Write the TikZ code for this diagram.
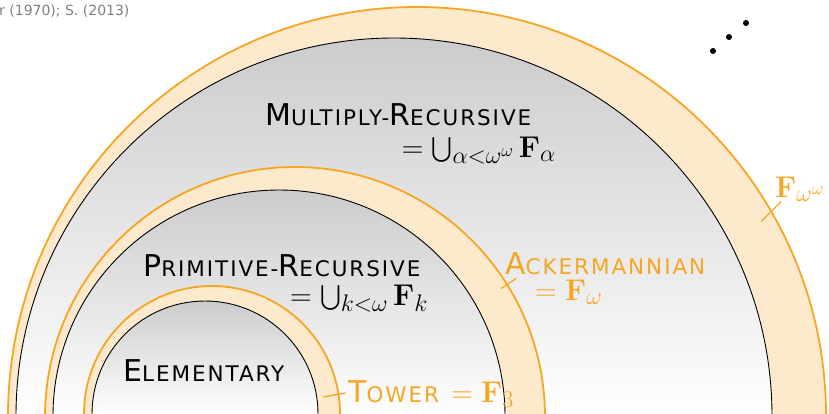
\RequirePackage{fix-cm}
\documentclass[tikz,border=0pt]{standalone}
\usepackage[no-math]{fontspec}
\usepackage{exscale}
\DeclareMathSizes{30}{30}{24}{18}
\newfontfamily\vera[LetterSpace=9]{DejaVu Sans}
\newfontfamily\veraplain{DejaVu Sans}
\definecolor{ackorange}{RGB}{246,166,35}
\definecolor{ringfill}{RGB}{253,234,205}
\definecolor{refgray}{RGB}{128,128,128}
\newcommand\fsc[2]{#1{\fontsize{21.5}{24}\selectfont #2}}
\begin{document}
\begin{tikzpicture}[
  x=1pt, y=-1pt,
  ring/.style={circle, draw=ackorange, fill=ringfill, line width=1.8pt, inner sep=0pt, outer sep=0pt},
  class/.style={circle, draw=black, line width=0.9pt, top color=black!20, bottom color=white, middle color=white, inner sep=0pt, outer sep=0pt},
  lbl/.style={font=\vera\fontsize{30}{32}\selectfont, inner sep=0pt},
  olbl/.style={lbl, text=ackorange},
  tick/.style={draw=ackorange, line width=1.3pt}
]
\useasboundingbox (0,0) rectangle (829,413);
\clip (0,0) rectangle (829,413);
\node[ring, minimum size=818pt] (mrring) at (417,416) {};
\node[class, minimum size=756pt] (mr) at (394,416) {};
\node[ring, minimum size=500pt] (prring) at (295,417) {};
\node[class, minimum size=452pt] (pr) at (279,416) {};
\node[ring, minimum size=256pt] (elring) at (212,414) {};
\node[class, minimum size=226pt] (el) at (205,414) {};
\node[lbl, anchor=base west] (mrname) at (265,125) {\fsc{M}{ULTIPLY-}\fsc{R}{ECURSIVE}};
\node[lbl, anchor=base east] (mrdef) at (556,157) {$=\bigcup_{\alpha<\omega^\omega}\mathbf{F}_\alpha$};
\node[lbl, anchor=base west] (prname) at (143,276) {\fsc{P}{RIMITIVE-}\fsc{R}{ECURSIVE}};
\node[lbl, anchor=base east] (prdef) at (428,305) {$=\bigcup_{k<\omega}\mathbf{F}_k$};
\node[lbl, anchor=base west] (elname) at (123,381) {\fsc{E}{LEMENTARY}};
\node[olbl, anchor=base west] (tower) at (348,402) {\fsc{T}{OWER} $=\mathbf{F}_3$};
\node[olbl, anchor=base west] (acker) at (505,274) {\fsc{A}{CKERMANNIAN}};
\node[olbl, anchor=base west] (ackdef) at (535,300) {$=\mathbf{F}_\omega$};
\node[olbl, anchor=base west] (fww) at (775,197) {$\mathbf{F}_{\omega^\omega}$};
\node[anchor=base west, inner sep=0pt, text=refgray, font=\veraplain\fontsize{14}{16}\selectfont] (refs) at (-1,15) {r (1970); S. (2013)};
\draw[tick] ([shift={(-15,3)}]elring.9) -- ([shift={(7,-1)}]elring.9);
\draw[tick] ([shift={(-6,4)}]prring.32) -- ([shift={(9,-6)}]prring.32);
\draw[tick] ([shift={(-10,10)}]mrring.30) -- ([shift={(10,-10)}]mrring.30);
\foreach \p in {(713,51),(729,37),(746,23)}
  \fill \p circle (3pt);
\end{tikzpicture}
\end{document}
